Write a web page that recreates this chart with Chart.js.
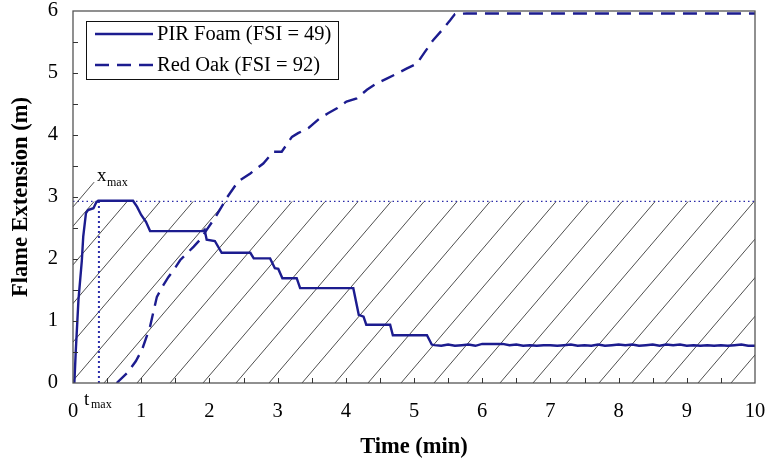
<!DOCTYPE html>
<html>
<head>
<meta charset="utf-8">
<script src="https://cdn.jsdelivr.net/npm/chart.js@4.4.1/dist/chart.umd.min.js"></script>
<style>
  html, body { margin: 0; padding: 0; background: #ffffff; }
  #wrap { width: 766px; height: 469px; }
</style>
</head>
<body>
<div id="wrap"><canvas id="c" width="766" height="469"></canvas></div>
<script>
// ---- Data ----
const xTickLabels = ['0','1','2','3','4','5','6','7','8','9','10'];
const yTickLabels = ['0','1','2','3','4','5','6'];

const pirLabel = 'PIR Foam (FSI = 49)';
const pirTime = [0, 0.02, 0.04, 0.08, 0.13, 0.15, 0.19, 0.22, 0.30, 0.34, 0.37, 0.88, 0.94, 1.00, 1.07, 1.13,
  1.91, 1.93, 1.96, 2.08, 2.18, 2.60, 2.65, 2.89, 2.96, 3.01, 3.07, 3.28, 3.33, 4.11, 4.19, 4.26, 4.30,
  4.65, 4.69, 5.19, 5.26,
  5.3, 5.4, 5.5, 5.6, 5.7, 5.8, 5.9, 6.0, 6.1, 6.2, 6.3, 6.4, 6.5, 6.6, 6.7, 6.8, 6.9, 7.0, 7.1, 7.2,
  7.3, 7.4, 7.5, 7.6, 7.7, 7.8, 7.9, 8.0, 8.1, 8.2, 8.3, 8.4, 8.5, 8.6, 8.7, 8.8, 8.9, 9.0, 9.1, 9.2,
  9.3, 9.4, 9.5, 9.6, 9.7, 9.8, 9.9, 10.0];
const pirExt = [0, 0, 0.5, 1.34, 1.98, 2.36, 2.74, 2.79, 2.82, 2.91, 2.94, 2.94, 2.84, 2.71, 2.60, 2.45,
  2.45, 2.47, 2.31, 2.29, 2.10, 2.10, 2.01, 2.01, 1.85, 1.84, 1.69, 1.69, 1.53, 1.53, 1.10, 1.07, 0.94,
  0.94, 0.77, 0.77, 0.62,
  0.61, 0.60, 0.62, 0.60, 0.61, 0.62, 0.60, 0.63, 0.63, 0.63, 0.63, 0.61, 0.62, 0.60, 0.61, 0.60, 0.61, 0.61, 0.60, 0.61,
  0.62, 0.60, 0.61, 0.60, 0.62, 0.60, 0.61, 0.62, 0.61, 0.62, 0.60, 0.61, 0.62, 0.60, 0.62, 0.61, 0.62, 0.60, 0.61, 0.60,
  0.61, 0.60, 0.61, 0.60, 0.61, 0.62, 0.60, 0.60];

const oakLabel = 'Red Oak (FSI = 92)';
const oakTime = [0.64, 0.80, 0.92, 1.01, 1.13, 1.23, 1.32, 1.40, 1.50, 1.57, 1.68, 1.77, 1.87, 1.96, 2.08,
  2.21, 2.25, 2.42, 2.60, 2.79, 2.94, 3.06, 3.21, 3.30, 3.45, 3.62, 3.74, 3.87, 4.01, 4.16, 4.31, 4.45,
  4.60, 4.75, 4.89, 5.04, 5.16, 5.28, 5.41, 5.53, 5.60, 5.77, 10.0];
const oakExt = [0, 0.17, 0.35, 0.53, 0.91, 1.39, 1.57, 1.71, 1.86, 1.98, 2.10, 2.20, 2.32, 2.47, 2.66,
  2.90, 2.98, 3.25, 3.38, 3.54, 3.73, 3.73, 3.97, 4.03, 4.11, 4.27, 4.35, 4.43, 4.54, 4.59, 4.73, 4.83,
  4.91, 4.99, 5.07, 5.15, 5.34, 5.53, 5.69, 5.85, 5.95, 5.96, 5.96];

const xMaxValue = 2.93;   // maximum flame extension (dotted horizontal line)
const tMaxValue = 0.38;   // time of maximum (dotted vertical line)

// ---- Styles ----
const NAVY = '#1c1c8f';
const SERIF = '"Liberation Serif", "Times New Roman", serif';

const toPoints = (xs, ys) => xs.map((x, i) => ({ x: x, y: ys[i] }));

const decorPlugin = {
  id: 'decor',
  beforeDatasetsDraw(chart) {
    const { ctx, chartArea: a, scales: { x, y } } = chart;
    const yTop = y.getPixelForValue(xMaxValue);
    // hatch region
    ctx.save();
    ctx.beginPath();
    ctx.rect(a.left, yTop, a.right - a.left, a.bottom - yTop);
    ctx.clip();
    ctx.strokeStyle = '#3a3a3a';
    ctx.lineWidth = 0.9;
    const slope = 1.17, spacing = 33;
    const H = a.bottom - yTop;
    const dx = H / slope;
    for (let x0 = a.left - 2 - spacing * Math.ceil(dx / spacing + 1); x0 < a.right + spacing; x0 += spacing) {
      ctx.beginPath();
      ctx.moveTo(x0, a.bottom);
      ctx.lineTo(x0 + dx, yTop);
      ctx.stroke();
    }
    ctx.restore();

    // dotted lines
    ctx.save();
    ctx.strokeStyle = '#2a2aa8';
    ctx.lineWidth = 1.4;
    ctx.setLineDash([1.5, 3]);
    ctx.beginPath();
    ctx.moveTo(a.left, yTop);
    ctx.lineTo(a.right, yTop);
    ctx.stroke();
    ctx.lineWidth = 2;
    ctx.setLineDash([2, 3]);
    const xt = x.getPixelForValue(tMaxValue);
    ctx.beginPath();
    ctx.moveTo(xt, a.bottom);
    ctx.lineTo(xt, yTop);
    ctx.stroke();
    ctx.restore();

    // leader line for x_max
    ctx.save();
    ctx.strokeStyle = '#3a3a3a';
    ctx.lineWidth = 0.9;
    ctx.beginPath();
    ctx.moveTo(x.getPixelForValue(0), y.getPixelForValue(2.84));
    ctx.lineTo(x.getPixelForValue(0.31), y.getPixelForValue(3.24));
    ctx.stroke();
    ctx.restore();
  },
  afterDatasetsDraw(chart) {
    const { ctx, chartArea: a, scales: { x, y } } = chart;
    // frame
    ctx.save();
    ctx.strokeStyle = '#555555';
    ctx.lineWidth = 1.3;
    ctx.strokeRect(a.left, a.top, a.right - a.left, a.bottom - a.top);
    // inward minor ticks
    ctx.strokeStyle = '#333333';
    ctx.lineWidth = 1;
    for (let v = 0.5; v < 6; v += 0.5) {
      const py = Math.round(y.getPixelForValue(v)) + 0.5;
      ctx.beginPath(); ctx.moveTo(a.left, py); ctx.lineTo(a.left + 5, py); ctx.stroke();
    }
    for (let t = 0.5; t < 10; t += 0.5) {
      const px = Math.round(x.getPixelForValue(t)) + 0.5;
      ctx.beginPath(); ctx.moveTo(px, a.bottom); ctx.lineTo(px, a.bottom - 5); ctx.stroke();
    }
    ctx.restore();

    // legend
    ctx.save();
    const lx = 86, ly = 21, lw = 252, lh = 58;
    ctx.fillStyle = '#ffffff';
    ctx.fillRect(lx, ly, lw, lh);
    ctx.strokeStyle = '#111111';
    ctx.lineWidth = 1;
    ctx.strokeRect(lx + 0.5, ly + 0.5, lw, lh);
    const rows = [
      { ds: chart.data.datasets[0], yy: 34 },
      { ds: chart.data.datasets[1], yy: 65 }
    ];
    rows.forEach(r => {
      ctx.strokeStyle = r.ds.borderColor;
      ctx.lineWidth = r.ds.borderWidth;
      ctx.setLineDash(r.ds.borderDash || []);
      ctx.beginPath(); ctx.moveTo(95, r.yy); ctx.lineTo(153, r.yy); ctx.stroke();
      ctx.setLineDash([]);
      ctx.fillStyle = '#000000';
      ctx.font = '20.5px ' + SERIF;
      ctx.textBaseline = 'middle';
      ctx.textAlign = 'left';
      ctx.fillText(r.ds.label, 157, r.yy + 1);
    });
    ctx.restore();

    // x_max and t_max labels
    ctx.save();
    ctx.fillStyle = '#000000';
    ctx.textBaseline = 'alphabetic';
    ctx.textAlign = 'left';
    ctx.font = '19px ' + SERIF;
    ctx.fillText('x', 97, 181);
    ctx.font = '12px ' + SERIF;
    ctx.fillText('max', 107, 186);
    ctx.font = '19px ' + SERIF;
    ctx.fillText('t', 84, 405);
    ctx.font = '12px ' + SERIF;
    ctx.fillText('max', 91, 408);
    ctx.restore();
  }
};

new Chart(document.getElementById('c'), {
  type: 'scatter',
  data: {
    datasets: [
      {
        label: pirLabel,
        data: toPoints(pirTime, pirExt),
        showLine: true,
        borderColor: NAVY,
        backgroundColor: NAVY,
        borderWidth: 2.4,
        pointRadius: 0,
        tension: 0
      },
      {
        label: oakLabel,
        data: toPoints(oakTime, oakExt),
        showLine: true,
        borderColor: NAVY,
        backgroundColor: NAVY,
        borderWidth: 2.4,
        borderDash: [14, 8],
        pointRadius: 0,
        tension: 0
      }
    ]
  },
  options: {
    responsive: false,
    animation: false,
    layout: { padding: { top: 11, right: 11, left: 0, bottom: 0 } },
    plugins: { legend: { display: false }, tooltip: { enabled: false } },
    scales: {
      x: {
        type: 'linear', min: 0, max: 10,
        border: { display: false },
        grid: { display: false, drawTicks: false },
        ticks: {
          stepSize: 1, padding: 16, color: '#000',
          font: { family: SERIF, size: 20.5 },
          maxRotation: 0,
          callback: (v) => xTickLabels[v]
        },
        title: {
          display: true, text: 'Time (min)', color: '#000',
          font: { family: SERIF, size: 22.5, weight: 'bold' },
          padding: { top: 0, bottom: 8 }
        },
        afterFit: (s) => { s.height = 86; s.paddingLeft = 0; s.paddingRight = 0; }
      },
      y: {
        type: 'linear', min: 0, max: 6,
        border: { display: false },
        grid: { display: false, drawTicks: false },
        ticks: {
          stepSize: 1, padding: 15, color: '#000',
          font: { family: SERIF, size: 20.5 },
          callback: (v) => yTickLabels[v]
        },
        title: {
          display: true, text: 'Flame Extension (m)', color: '#000',
          font: { family: SERIF, size: 22.5, weight: 'bold' },
          padding: { top: 8, bottom: 0 }
        },
        afterFit: (s) => { s.width = 73; s.paddingTop = 0; s.paddingBottom = 0; }
      }
    }
  },
  plugins: [decorPlugin]
});
</script>
</body>
</html>
